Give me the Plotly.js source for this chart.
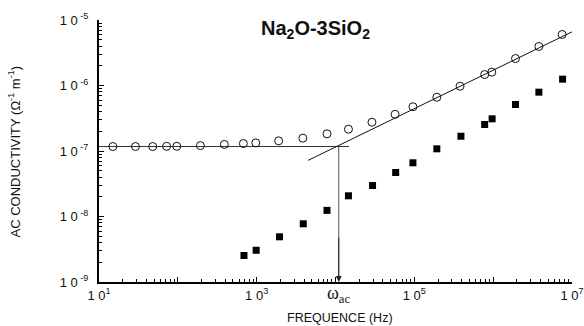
<!DOCTYPE html>
<html><head><meta charset="utf-8">
<script src="https://cdn.plot.ly/plotly-3.0.1.min.js"></script>
<style>html,body{margin:0;padding:0;background:#fff}#chart{width:584px;height:326px}</style>
</head><body><div id="chart"></div>
<script>
// Open circles: Na2O-3SiO2 AC conductivity
const freqCircles = [15, 29, 48, 72, 97, 193, 389, 678, 975, 1.9e3, 3.85e3, 7.8e3, 1.46e4, 2.9e4, 5.7e4, 9.6e4, 1.93e5, 3.8e5, 7.8e5, 9.6e5, 1.92e6, 3.8e6, 7.5e6];
const sigmaCircles = [1.17e-7, 1.17e-7, 1.17e-7, 1.18e-7, 1.18e-7, 1.21e-7, 1.26e-7, 1.30e-7, 1.33e-7, 1.43e-7, 1.57e-7, 1.83e-7, 2.15e-7, 2.75e-7, 3.63e-7, 4.74e-7, 6.62e-7, 9.75e-7, 1.47e-6, 1.60e-6, 2.58e-6, 3.94e-6, 6.01e-6];
// Filled squares
const freqSquares = [690, 985, 1.95e3, 3.9e3, 7.8e3, 1.46e4, 2.95e4, 5.8e4, 9.6e4, 1.93e5, 3.9e5, 7.8e5, 9.7e5, 1.92e6, 3.8e6, 7.6e6];
const sigmaSquares = [2.54e-9, 3.05e-9, 4.90e-9, 7.74e-9, 1.24e-8, 2.07e-8, 2.97e-8, 4.70e-8, 6.61e-8, 1.08e-7, 1.68e-7, 2.54e-7, 3.10e-7, 5.13e-7, 7.91e-7, 1.25e-6];
// Fit lines
const plateauF = [10, 1.48e4];
const plateauS = [1.17e-7, 1.17e-7];
const powerF = [4.5e3, 1.0e7];
const powerS = [7.2e-8, 6.6e-6];
const omegaAc = 1.1e4;
const sigmaDC = 1.17e-7;
const yTickVals = [1e-9, 1e-8, 1e-7, 1e-6, 1e-5];
const yTickText = ['1 0<sup> -9</sup>', '1 0<sup> -8</sup>', '1 0<sup> -7</sup>', '1 0<sup> -6</sup>', '1 0<sup> -5</sup>'];
const xTickVals = [1e1, 1e2, 1e3, 1e4, 1e5, 1e6, 1e7];
const xTickText = ['1 0<sup>1</sup>', '', '1 0<sup>3</sup>', '', '1 0<sup>5</sup>', '', '1 0<sup>7</sup>'];

function minorVals(lo, hi) {
  const v = [];
  for (let e = lo; e < hi; e++) for (let m = 2; m <= 9; m++) v.push(m * Math.pow(10, e));
  return v;
}

const traces = [
  {x: plateauF, y: plateauS, mode: 'lines', line: {color: '#333', width: 1}, hoverinfo: 'skip'},
  {x: powerF, y: powerS, mode: 'lines', line: {color: '#111', width: 1}, hoverinfo: 'skip'},
  {x: [omegaAc, omegaAc], y: [sigmaDC, 1.1e-9], mode: 'lines', line: {color: '#555', width: 1}, hoverinfo: 'skip'},
  {x: freqCircles, y: sigmaCircles, mode: 'markers',
   marker: {symbol: 'circle-open', size: 8, color: '#111', line: {width: 1, color: '#111'}}},
  {x: freqSquares, y: sigmaSquares, mode: 'markers',
   marker: {symbol: 'square', size: 7, color: '#000'}}
];

const font = {family: 'Liberation Sans, Arial, sans-serif', color: '#111'};
const H = 262; // plot height in px, for paper coordinates
const layout = {
  width: 584, height: 326,
  margin: {l: 99, r: 12, t: 20, b: 44},
  paper_bgcolor: '#fff', plot_bgcolor: '#fff',
  showlegend: false,
  font: Object.assign({size: 12}, font),
  xaxis: {
    type: 'log', range: [1, 7], automargin: false,
    tickmode: 'array', tickvals: xTickVals, ticktext: xTickText,
    ticks: 'inside', ticklen: 5, tickcolor: '#000', tickwidth: 1,
    minor: {tickmode: 'array', tickvals: minorVals(1, 7), ticks: 'inside', ticklen: 3, tickcolor: '#000', showgrid: false},
    showline: true, linecolor: '#000', linewidth: 2, mirror: false,
    showgrid: false, zeroline: false,
    tickfont: Object.assign({size: 13}, font)
  },
  yaxis: {
    type: 'log', range: [-9, -5], automargin: false,
    tickmode: 'array', tickvals: yTickVals, ticktext: yTickText,
    ticks: 'inside', ticklen: 5, tickcolor: '#000', tickwidth: 1,
    minor: {tickmode: 'array', tickvals: minorVals(-9, -5), ticks: 'inside', ticklen: 3, tickcolor: '#000', showgrid: false},
    showline: true, linecolor: '#000', linewidth: 2, mirror: false,
    showgrid: false, zeroline: false,
    ticklabelstandoff: 6,
    tickfont: Object.assign({size: 13}, font)
  },
  annotations: [
    {xref: 'paper', yref: 'paper', x: (315 - 99) / 473, y: (282.5 - 30) / H, xanchor: 'center', yanchor: 'middle', showarrow: false,
     text: '<b>Na<sub>2</sub>O-3SiO<sub>2</sub></b>', font: Object.assign({size: 20}, font)},
    {xref: 'x', yref: 'y', x: Math.log10(omegaAc), y: -9, axref: 'x', ayref: 'y',
     ax: Math.log10(omegaAc), ay: -8.3, showarrow: true, arrowhead: 2, arrowsize: 1.2, arrowwidth: 1,
     arrowcolor: '#222', text: ''},
    {xref: 'x', yref: 'paper', x: Math.log10(omegaAc), y: (282.5 - 295) / H, xanchor: 'center', yanchor: 'middle', showarrow: false,
     text: 'ω<sub>ac</sub>', font: {family: 'Liberation Serif, Times New Roman, serif', size: 18, color: '#111'}},
    {xref: 'paper', yref: 'paper', x: (340 - 99) / 473, y: (282.5 - 318) / H, xanchor: 'center', yanchor: 'middle', showarrow: false,
     text: 'FREQUENCE (Hz)', font: Object.assign({size: 12.5}, font)},
    {xref: 'paper', yref: 'paper', x: (14 - 99) / 473, y: (282.5 - 152) / H, xanchor: 'center', yanchor: 'middle', showarrow: false,
     textangle: -90, text: 'AC CONDUCTIVITY (Ω<sup>-1</sup> m<sup>-1</sup>)', font: Object.assign({size: 13}, font)}
  ]
};

Plotly.newPlot('chart', traces, layout, {displayModeBar: false, staticPlot: true});
</script>
</body></html>
